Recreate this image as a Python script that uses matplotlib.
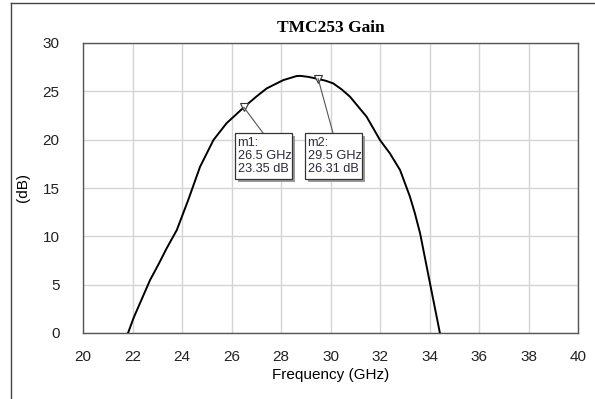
import matplotlib
matplotlib.use("Agg")
import matplotlib.pyplot as plt
from matplotlib.lines import Line2D
from matplotlib.patches import Rectangle

freq_ghz = [21.82, 22.05, 22.30, 22.71, 23.05, 23.38, 23.79, 24.25, 24.73, 25.27, 25.80,
            26.50, 27.00, 27.42, 28.09, 28.63, 28.77, 29.10, 29.44, 29.80, 30.11, 30.45,
            30.79, 31.46, 32.00, 32.40, 32.81, 33.21, 33.41, 33.62, 34.02, 34.42]
gain_db = [0.0, 1.6, 3.07, 5.48, 7.1, 8.76, 10.65, 13.75, 17.2, 19.96, 21.7,
           23.35, 24.45, 25.3, 26.16, 26.58, 26.6, 26.5, 26.31, 26.1, 25.82, 25.2,
           24.44, 22.37, 19.96, 18.58, 16.86, 14.1, 12.38, 10.31, 5.14, 0.0]

marker_names = ["m1", "m2"]
marker_freq = [26.5, 29.5]
marker_gain = [23.35, 26.31]

x_ticks = [20, 22, 24, 26, 28, 30, 32, 34, 36, 38, 40]
y_ticks = [0, 5, 10, 15, 20, 25, 30]

title = "TMC253 Gain"
x_label = "Frequency (GHz)"
y_label = "(dB)"

plt.rcParams['font.family'] = ['Liberation Sans', 'DejaVu Sans']

W, H = 595, 399
fig = plt.figure(figsize=(W / 100, H / 100), dpi=100)
ax = fig.add_axes([83 / W, 1 - 333 / H, (578 - 83) / W, (333 - 43) / H])

ax.plot(freq_ghz, gain_db, color="black", lw=1.4, zorder=3)
ax.set_xlim(20, 40)
ax.set_ylim(0, 30)
ax.set_xticks(x_ticks)
ax.set_yticks(y_ticks)
ax.tick_params(length=0, labelsize=11, colors="#222222")
ax.tick_params(axis="x", pad=12)
ax.tick_params(axis="y", pad=17)
ax.grid(True, color="#d4d4d4", lw=1.0)
ax.set_axisbelow(True)
for s in ax.spines.values():
    s.set_color("#555555")
    s.set_linewidth(1.0)

ax.set_xlabel(x_label, fontsize=11, labelpad=3)
ax.set_ylabel(y_label, fontsize=11)
ax.yaxis.set_label_coords((30 - 83) / (578 - 83), 0.5)
ax.set_title(title, fontsize=12.5, fontweight="bold", family="Liberation Serif", pad=8)

# marker triangles
ax.plot(marker_freq, marker_gain, linestyle="none", marker="v", markersize=6,
        markerfacecolor="white", markeredgecolor="#333333", mew=0.8, zorder=4)

# annotation boxes (pixel layout)
box_px = [(235, 133), (305, 133)]
box_w, box_h = 57, 46
for name, f, g, (bx, by) in zip(marker_names, marker_freq, marker_gain, box_px):
    mx, my = ax.transData.transform((f, g))
    fx0 = bx + 28
    fig.add_artist(Line2D([mx, fx0], [my, H - by], transform=None,
                          color="#555555", lw=0.8, zorder=5))
    fig.add_artist(Rectangle((bx + 3, H - by - box_h - 3), box_w, box_h, transform=None,
                             facecolor="#9a9a9a", edgecolor="none", zorder=6))
    fig.add_artist(Rectangle((bx, H - by - box_h), box_w, box_h, transform=None,
                             facecolor="white", edgecolor="#333333", lw=0.9, zorder=7))
    txt = f"{name}:\n{f:.1f} GHz\n{g:.2f} dB"
    fig.text((bx + 2.5) / W, 1 - (by + 4) / H, txt, ha="left", va="top",
             fontsize=9.2, linespacing=1.12, color="#2a2a3a", zorder=8)

# outer frame (left and top)
fig.add_artist(Line2D([10.5, 10.5], [0, H - 2.5], transform=None, color="#444444", lw=1.0))
fig.add_artist(Line2D([10.5, W], [H - 2.5, H - 2.5], transform=None, color="#444444", lw=1.0))

fig.savefig("out.png", dpi=100)
